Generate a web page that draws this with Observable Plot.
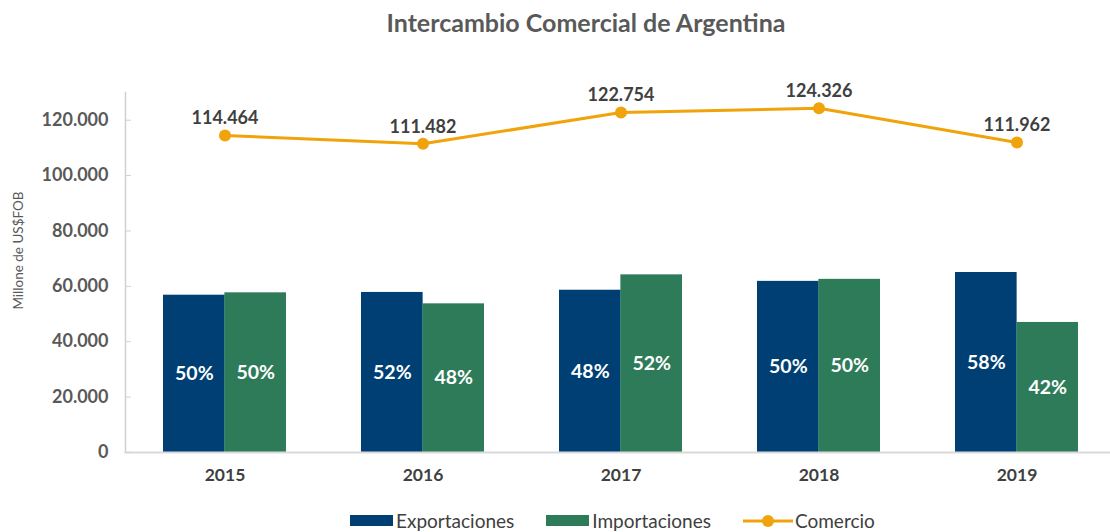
<!DOCTYPE html>
<html>
<head>
<meta charset="utf-8">
<script src="https://cdn.jsdelivr.net/npm/d3@7"></script>
<script src="https://cdn.jsdelivr.net/npm/@observablehq/plot@0.6"></script>
<style>
  html, body { margin: 0; padding: 0; background: #fff; }
  body { width: 1110px; height: 532px; position: relative; overflow: hidden; font-family: Lato, "Noto Sans", sans-serif; }
  #title { height: 45px; line-height: 45px; text-align: center; padding-left: 62px; font-size: 25px; font-weight: bold; color: #595959; }
  #chart svg { display: block; }
  #legend { position: absolute; top: 509px; left: 350px; display: flex; align-items: center; font-size: 19px; color: #404040; }
  .item { display: flex; align-items: center; margin-right: 32px; }
  .sw { display: inline-block; width: 43px; height: 11px; margin-right: 3px; }
</style>
</head>
<body>
<div id="title">Intercambio Comercial de Argentina</div>
<div id="chart"></div>
<div id="legend"></div>
<script>
const years = ["2015", "2016", "2017", "2018", "2019"];
const exportaciones = [56800, 57800, 58600, 61800, 65000];
const importaciones = [57664, 53682, 64154, 62526, 46962];
const comercio = [114464, 111482, 122754, 124326, 111962];
const exportShare = ["50%", "52%", "48%", "50%", "58%"];
const importShare = ["50%", "48%", "52%", "50%", "42%"];
const yTicks = [0, 20000, 40000, 60000, 80000, 100000, 120000];
const yTitle = "Millone de US$FOB";
const seriesNames = ["Exportaciones", "Importaciones", "Comercio"];

const colors = { exp: "#003F74", imp: "#2E7B5A", com: "#F0A30A" };

const rows = years.map((year, i) => ({
  year,
  exp: exportaciones[i],
  imp: importaciones[i],
  total: comercio[i],
  expShare: exportShare[i],
  impShare: importShare[i]
}));

const locale = d3.formatLocale({ decimal: ",", thousands: ".", grouping: [3], currency: ["$", ""] });
const fmt = locale.format(",d");

const W = 1110, H = 460;
const xRange = [125, 1115];
const paddingInner = 0.38, paddingOuter = 0.19;
const step = (xRange[1] - xRange[0]) / years.length;
const bw = step * (1 - paddingInner);

const chart = Plot.plot({
  width: W,
  height: H,
  marginLeft: 125,
  marginRight: 0,
  marginTop: 47,
  marginBottom: 53,
  style: { fontFamily: "Lato, 'Noto Sans', sans-serif", fontSize: "16px", color: "#595959", background: "#fff" },
  x: { domain: years, range: xRange, paddingInner, paddingOuter, label: null },
  y: { domain: [0, 130000], label: null },
  marks: [
    Plot.barY(rows, { x: "year", y: "exp", fill: colors.exp, insetRight: bw / 2 }),
    Plot.barY(rows, { x: "year", y: "imp", fill: colors.imp, insetLeft: bw / 2 }),
    Plot.frame({ anchor: "left", stroke: "#d0d0d0", strokeWidth: 1.5 }),
    Plot.frame({ anchor: "bottom", stroke: "#d9d9d9", strokeWidth: 2 }),
    Plot.axisY({ ticks: yTicks, tickSize: -6, tickPadding: 23, tickFormat: fmt, stroke: "#d0d0d0", fill: "#595959", fontWeight: "bold", fontSize: 18 }),
    Plot.axisX({ tickSize: 0, tickPadding: 16, fontWeight: "bold", fontSize: 17.5, fill: "#404040" }),
    Plot.text([yTitle], { frameAnchor: "left", textAnchor: "middle", rotate: -90, dx: -107, dy: -22, fontSize: 13.5, fill: "#595959" }),
    Plot.text(rows, { x: "year", y: d => d.exp / 2, text: "expShare", dx: -bw / 4, fill: "#fff", fontWeight: "bold", fontSize: 19.5 }),
    Plot.text(rows, { x: "year", y: d => d.imp / 2, text: "impShare", dx: bw / 4, fill: "#fff", fontWeight: "bold", fontSize: 19.5 }),
    Plot.line(rows, { x: "year", y: "total", stroke: colors.com, strokeWidth: 3 }),
    Plot.dot(rows, { x: "year", y: "total", r: 6, fill: colors.com }),
    Plot.text(rows, { x: "year", y: "total", text: d => fmt(d.total), dy: -17, fill: "#404040", fontWeight: "bold", fontSize: 18 })
  ]
});
document.getElementById("chart").append(chart);

const legend = document.getElementById("legend");
seriesNames.forEach((name, i) => {
  const item = document.createElement("div");
  item.className = "item";
  if (i < 2) {
    const sw = document.createElement("span");
    sw.className = "sw";
    sw.style.background = i === 0 ? colors.exp : colors.imp;
    item.append(sw);
  } else {
    const ns = "http://www.w3.org/2000/svg";
    const s = document.createElementNS(ns, "svg");
    s.setAttribute("width", 50); s.setAttribute("height", 14);
    s.style.marginRight = "2px";
    const l = document.createElementNS(ns, "line");
    l.setAttribute("x1", 0); l.setAttribute("x2", 50); l.setAttribute("y1", 7); l.setAttribute("y2", 7);
    l.setAttribute("stroke", colors.com); l.setAttribute("stroke-width", 3);
    const c = document.createElementNS(ns, "circle");
    c.setAttribute("cx", 25); c.setAttribute("cy", 7); c.setAttribute("r", 6); c.setAttribute("fill", colors.com);
    s.append(l, c);
    item.append(s);
  }
  const t = document.createElement("span");
  t.textContent = name;
  item.append(t);
  legend.append(item);
});
</script>
</body>
</html>
